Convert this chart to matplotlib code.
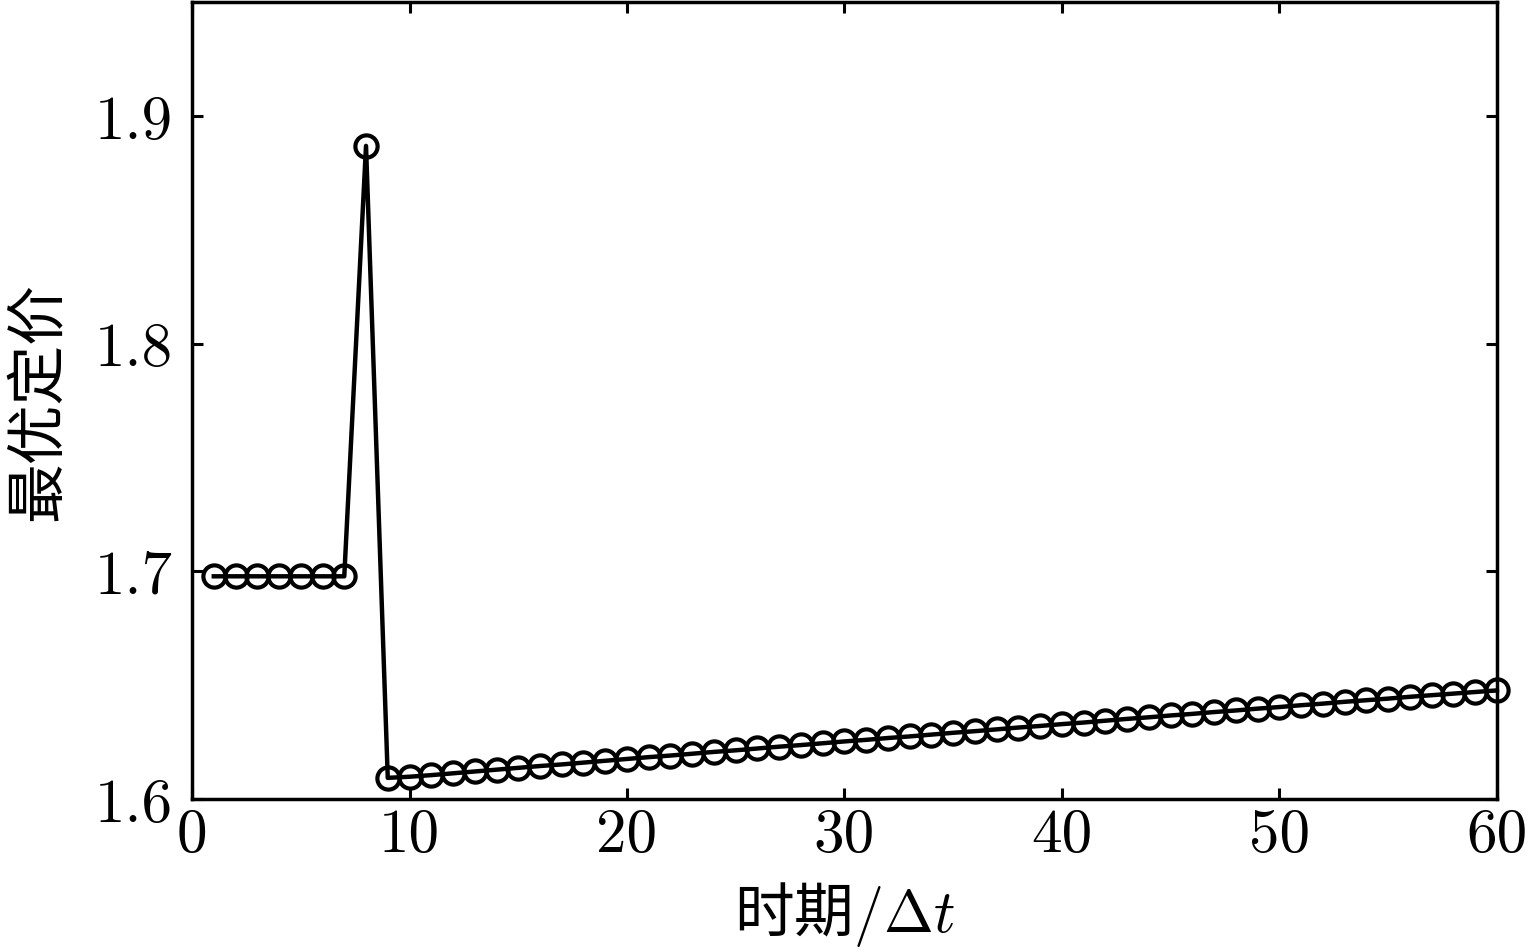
import matplotlib
matplotlib.use("Agg")
import matplotlib.pyplot as plt

plt.rcParams['mathtext.fontset'] = 'cm'
plt.rcParams['axes.formatter.use_mathtext'] = True

periods = list(range(1, 61))
prices = [
    1.6978, 1.6978, 1.6978, 1.6978, 1.6978, 1.6978, 1.6978,  # 1-7
    1.8868,                                                  # 8
    1.6093,                                                  # 9
    1.6098, 1.6105, 1.6113, 1.6121, 1.6129, 1.6137, 1.6145, 1.6152, 1.6160, 1.6168,  # 10-19
    1.6176, 1.6184, 1.6191, 1.6199, 1.6207, 1.6214, 1.6222, 1.6230, 1.6237, 1.6245,  # 20-29
    1.6253, 1.6260, 1.6268, 1.6275, 1.6283, 1.6291, 1.6298, 1.6306, 1.6314, 1.6321,  # 30-39
    1.6329, 1.6336, 1.6344, 1.6352, 1.6359, 1.6367, 1.6374, 1.6382, 1.6389, 1.6397,  # 40-49
    1.6404, 1.6412, 1.6419, 1.6427, 1.6434, 1.6441, 1.6449, 1.6456, 1.6463, 1.6470,  # 50-59
    1.6477,                                                                          # 60
]
xticks = [0, 10, 20, 30, 40, 50, 60]
yticks = [1.6, 1.7, 1.8, 1.9]
xlabel = r'时期$/\Delta t$'
ylabel = '最优定价'

fig = plt.figure(figsize=(15.35, 9.53), dpi=100)
ax = fig.add_axes([0.1251, 0.1605, 0.8501, 0.8364])

ax.plot(periods, prices, color='black', linewidth=3.2, marker='o',
        markersize=16, markerfacecolor='none', markeredgecolor='black',
        markeredgewidth=3.0, clip_on=False, zorder=3)

ax.set_xlim(0, 60)
ax.set_ylim(1.6, 1.95)
ax.set_xticks(xticks)
ax.set_yticks(yticks)
ax.set_xticklabels([str(t) for t in xticks], fontfamily='cmr10', fontsize=44)
ax.set_yticklabels([f'{t:.1f}' for t in yticks], fontfamily='cmr10', fontsize=44)

ax.tick_params(direction='in', length=8, width=2.2, top=True, right=True)
ax.tick_params(axis='y', pad=14)
ax.tick_params(axis='x', pad=6)
for s in ax.spines.values():
    s.set_linewidth(2.5)

ax.set_xlabel(xlabel, fontfamily=['Noto Sans CJK SC', 'DejaVu Sans'], fontsize=43, labelpad=12)
ax.set_ylabel(ylabel, fontfamily=['Noto Sans CJK SC', 'DejaVu Sans'], fontsize=43, labelpad=18)

fig.savefig('out.png', dpi=100)
